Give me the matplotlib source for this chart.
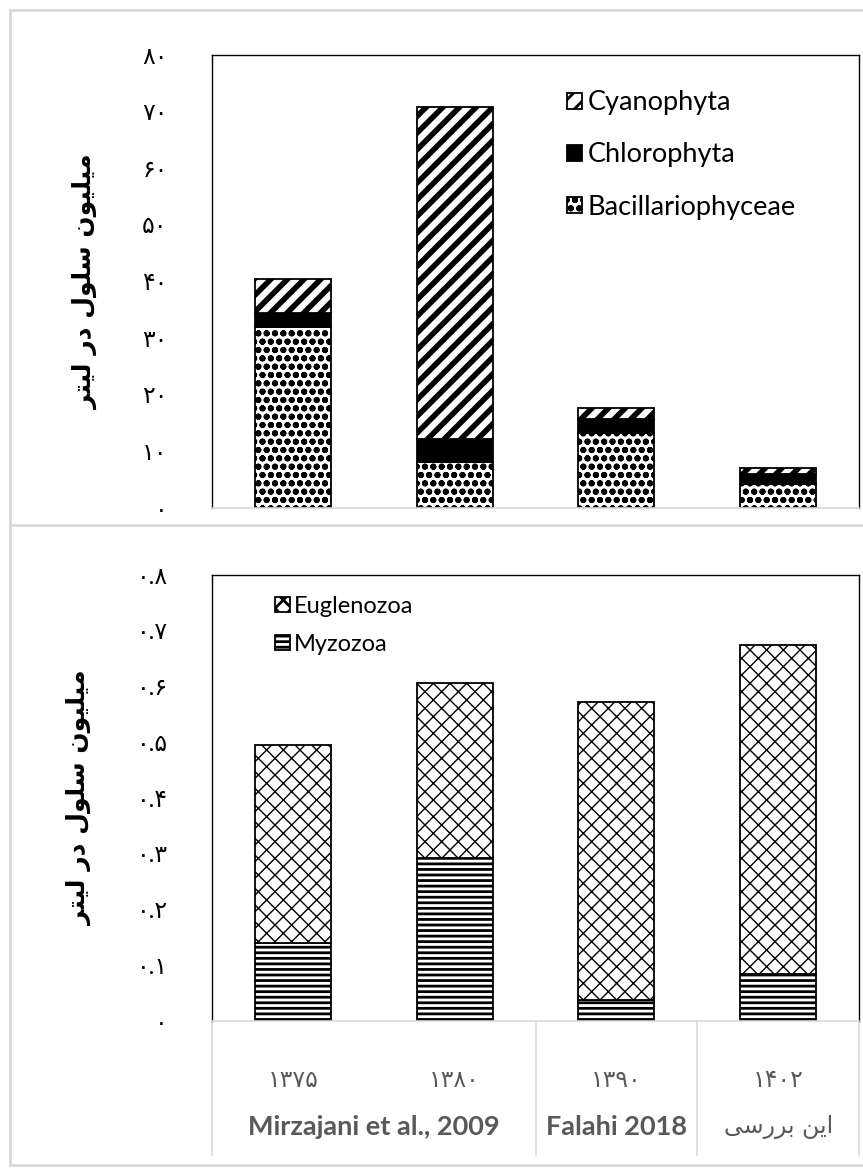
import matplotlib
matplotlib.use("Agg")
import matplotlib.pyplot as plt
from matplotlib.lines import Line2D
from matplotlib.patches import Patch

plt.rcParams['font.family'] = ['Lato', 'DejaVu Sans']

# sampling years (solar hijri) and sources
years = ['۱۳۷۵', '۱۳۸۰', '۱۳۹۰', '۱۴۰۲']
sources = ['Mirzajani et al., 2009', 'Falahi 2018', 'ﻰﺳﺭﺮﺑ ﻦﻳﺍ']
source_spans = [(0, 1), (2, 2), (3, 3)]

# million cells per litre
bacillariophyceae = [32.0, 8.1, 13.3, 4.2]
chlorophyta = [2.5, 4.1, 2.5, 1.8]
cyanophyta = [6.0, 58.6, 1.9, 1.1]

myzozoa = [0.140, 0.293, 0.038, 0.085]
euglenozoa = [0.356, 0.313, 0.534, 0.589]

ylabel = 'ﺮﺘﻴﻟ ﺭﺩ ﻝﻮﻠﺳ ﻥﻮﻴﻠﻴﻣ'
fa_digits = str.maketrans('0123456789', '۰۱۲۳۴۵۶۷۸۹')

x = list(range(len(years)))
width = 0.47
grey = '#d9d9d9'
text_grey = '#595959'

fig = plt.figure(figsize=(8.63, 11.69), dpi=100)
ax1 = fig.add_axes([0.2457, 0.5654, 0.7497, 0.3875])
ax2 = fig.add_axes([0.2457, 0.1266, 0.7497, 0.3815])


def bar(ax, vals, bottom, hatch, lw, face='white'):
    plt.rcParams['hatch.linewidth'] = lw
    bars = ax.bar(x, vals, width, bottom=bottom, color=face, edgecolor='black',
                  linewidth=1.3, hatch=hatch)
    for b in bars:
        b.set_hatch_linewidth(lw)
    return bars


def swatch(hatch, lw, face='white', label=''):
    plt.rcParams['hatch.linewidth'] = lw
    p = Patch(facecolor=face, edgecolor='black', hatch=hatch, label=label, linewidth=1.3)
    p.set_hatch_linewidth(lw)
    return p


# top panel: stacked counts
bot2 = [a + b for a, b in zip(bacillariophyceae, chlorophyta)]
bar(ax1, bacillariophyceae, 0, 'oo', 2.0)
bar(ax1, chlorophyta, bacillariophyceae, None, 1.0, face='black')
bar(ax1, cyanophyta, bot2, '//', 4.0)

ax1.set_ylim(0, 80)
ax1.set_yticks(range(0, 81, 10))
ax1.set_yticklabels([str(v).translate(fa_digits) for v in range(0, 81, 10)])

handles1 = [swatch('//', 3.0, label='Cyanophyta'),
            swatch(None, 1.0, face='black', label='Chlorophyta'),
            swatch('oo', 2.0, label='Bacillariophyceae')]
ax1.legend(handles=handles1, loc='upper left', bbox_to_anchor=(0.549, 0.922), frameon=False,
           fontsize=19.5, handlelength=0.55, handleheight=0.55, handletextpad=0.2,
           labelspacing=1.0, borderpad=0, borderaxespad=0)

# bottom panel: stacked counts
bar(ax2, myzozoa, 0, '---', 2.0)
bar(ax2, euglenozoa, myzozoa, 'xx', 1.0)

ax2.set_ylim(0, 0.8)
yt = [i / 10 for i in range(9)]
ax2.set_yticks(yt)
ax2.set_yticklabels(['۰'] + [('0.%d' % i).translate(fa_digits) for i in range(1, 9)])

handles2 = [swatch('xx', 1.0, label='Euglenozoa'),
            swatch('---', 2.0, label='Myzozoa')]
ax2.legend(handles=handles2, loc='upper left', bbox_to_anchor=(0.098, 0.953), frameon=False,
           fontsize=17, handlelength=0.6, handleheight=0.6, handletextpad=0.2,
           labelspacing=0.7, borderpad=0, borderaxespad=0)

for ax in (ax1, ax2):
    ax.set_xlim(-0.5, 3.5)
    ax.set_xticks([])
    ax.tick_params(axis='y', length=0, pad=32, labelsize=17)
    for side in ('left', 'top', 'right'):
        ax.spines[side].set_color('black')
        ax.spines[side].set_linewidth(1.0)
    ax.spines['bottom'].set_color(grey)
    ax.spines['bottom'].set_linewidth(1.2)
    ax.set_ylabel(ylabel, family='DejaVu Sans', fontweight='bold', fontsize=18, labelpad=32)

# category table under the lower panel
tr = ax2.get_xaxis_transform()
for xs in (-0.5, 1.5, 2.5, 3.5):
    ax2.plot([xs, xs], [0, -0.30], color=grey, lw=1.2, transform=tr, clip_on=False)
for xi, yr in zip(x, years):
    ax2.text(xi, -0.132, yr, transform=tr, ha='center', va='center',
             family='DejaVu Sans', fontsize=17, color=text_grey)
for (a, b), src in zip(source_spans, sources):
    fam = 'DejaVu Sans' if src.startswith('ﻰ') else 'Lato'
    ax2.text((a + b) / 2, -0.237, src, transform=tr, ha='center', va='center',
             family=fam, fontsize=19.5 if fam == 'Lato' else 17,
             fontweight='bold' if fam == 'Lato' else 'normal', color=text_grey)

# panel frames
for xs, ys in (([10 / 863, 10 / 863], [1 - 10 / 1169, 1 - 1165 / 1169]),
               ([10 / 863, 1], [1 - 10 / 1169, 1 - 10 / 1169]),
               ([10 / 863, 1], [1 - 525 / 1169, 1 - 525 / 1169]),
               ([10 / 863, 1], [1 - 1165 / 1169, 1 - 1165 / 1169])):
    fig.add_artist(Line2D(xs, ys, color=grey, lw=2))

fig.savefig('out.png', dpi=100)
